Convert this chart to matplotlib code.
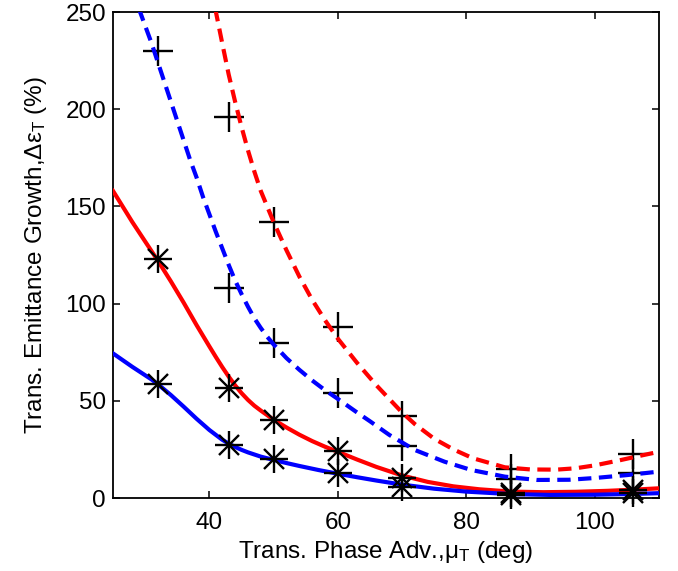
import matplotlib
matplotlib.use("Agg")
from matplotlib import pyplot as plt
import numpy as np

plt.rcParams["font.family"] = ["Liberation Sans", "DejaVu Sans"]
plt.rcParams["mathtext.fontset"] = "custom"
plt.rcParams["mathtext.rm"] = "Liberation Sans"
plt.rcParams["mathtext.it"] = "Liberation Sans"
plt.rcParams["mathtext.default"] = "regular"

# measured points (phase advance in deg)
phase_adv = [32, 43, 50, 60, 70, 87, 106]
plus_red = [np.nan, 196, 142, 88, 42, 15, 22.5]
plus_blue = [230, 108, 80, 54, 27, 10, 12.7]
star_red = [123, 56.4, 40, 24.2, 10.1, 2.5, 4.1]
star_blue = [58.7, 27.3, 20.3, 12.7, 5.5, 1.8, 2.4]

# fitted curves
red_solid_x = [25, 28, 31, 32, 34, 36, 38, 40, 41, 42, 43, 44, 45, 46, 47, 48, 50, 52,
               54, 56, 58, 60, 63, 66, 70, 74, 78, 82, 87, 92, 97, 102, 106, 110]
red_solid_y = [158, 142, 127, 122, 111.5, 100.5, 89, 78, 72.6, 67.4, 62.5, 58, 54, 50.5,
               47.5, 45, 40.3, 36.3, 32.6, 29.3, 26.4, 23.8, 19.8, 16, 11.6, 8.3, 6, 4.5,
               3.3, 3, 3.2, 3.7, 4.3, 5]

blue_solid_x = [25, 28, 31, 32, 34, 36, 38, 40, 42, 43, 44, 45, 46, 48, 50, 52, 54, 57,
                60, 63, 66, 70, 75, 80, 87, 93, 100, 106, 110]
blue_solid_y = [74.4, 67.5, 61, 58.5, 53, 47, 40.8, 35, 30, 28, 26.3, 24.8, 23.5, 21.3,
                19.6, 18, 16.5, 14.4, 12.5, 10.7, 9, 6.9, 4.8, 3.3, 2, 1.6, 1.7, 2.1, 2.5]

blue_dash_x = [29.0, 30, 31, 32, 33, 34, 35, 36, 37, 38, 39, 40, 41, 42, 43, 44, 45, 46,
               47, 48, 49, 50, 52, 54, 56, 58, 60, 63, 65, 68, 72, 76.6, 80.8, 86, 91, 96,
               100, 105, 110]
blue_dash_y = [252, 243, 234, 224, 214, 204, 194, 184, 174, 165, 155, 146, 137, 128.5,
               120, 112, 105, 98.5, 92.5, 87.5, 83, 79, 72, 66, 60.5, 55.5, 51, 44, 39.5,
               32.5, 24.7, 18.7, 14.4, 11, 9.3, 9.4, 10.3, 11.8, 13.6]

red_dash_x = [40.9, 42, 43, 44, 45, 46, 47, 48, 50, 52, 54, 56, 58, 60, 63, 66, 70, 72,
              75, 78, 81, 86, 90, 94, 97, 100, 104, 107, 110]
red_dash_y = [252, 234, 218, 204, 191, 179, 168, 158, 142, 127.5, 114, 102, 91.5, 82,
              69.5, 58, 44, 38, 30.5, 25, 20.5, 15.8, 14.7, 14.6, 15.3, 16.8, 19.5, 21.7,
              23.8]

fig = plt.figure(figsize=(6.78, 5.71), dpi=100)
ax = fig.add_axes([0.1667, 0.1278, 0.8053, 0.851])

lw = 3.0
dash = (3.2, 1.8)
ax.plot(red_dash_x, red_dash_y, color="red", lw=lw, dashes=dash, zorder=3)
ax.plot(blue_dash_x, blue_dash_y, color="blue", lw=lw, dashes=dash, zorder=3)
ax.plot(red_solid_x, red_solid_y, color="red", lw=lw, zorder=3)
ax.plot(blue_solid_x, blue_solid_y, color="blue", lw=lw, zorder=3)

mk = dict(ls="none", color="black", mew=1.7, clip_on=False)
ax.plot(phase_adv, plus_red, marker="+", ms=21, zorder=2, **mk)
ax.plot(phase_adv, plus_blue, marker="+", ms=21, zorder=2, **mk)
for vals in (star_red, star_blue):
    ax.plot(phase_adv, vals, marker="+", ms=20, zorder=4, **mk)
    ax.plot(phase_adv, vals, marker="x", ms=14, zorder=4, **mk)

ax.set_xlim(25, 110)
ax.set_ylim(0, 250)
ax.set_xticks([40, 60, 80, 100])
ax.set_yticks([0, 50, 100, 150, 200, 250])
ax.tick_params(direction="in", length=5, width=1.1, top=True, right=True, labelsize=17.5)
ax.tick_params(axis="x", pad=10)
ax.tick_params(axis="y", pad=5)
for sp in ax.spines.values():
    sp.set_linewidth(1.3)

ax.set_xlabel(r"Trans. Phase Adv.,$\mu_T$ (deg)", fontsize=17.5, labelpad=4)
ax.set_ylabel(r"Trans. Emittance Growth,$\Delta\varepsilon_T$ (%)", fontsize=17.5,
              labelpad=12)

fig.savefig("out.png", dpi=100)
